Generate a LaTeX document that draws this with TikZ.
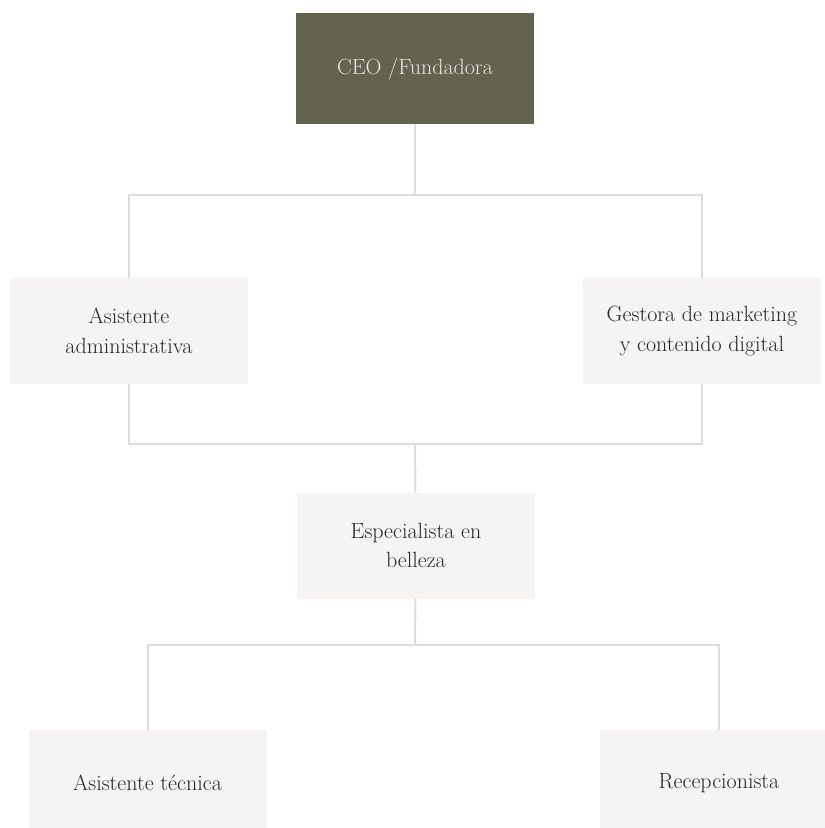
\documentclass[tikz,border=0pt]{standalone}
\usepackage{fontspec}
\usepackage{tikz}
\usetikzlibrary{positioning}

\definecolor{olive}{HTML}{63634F}
\definecolor{paper}{HTML}{F6F4F2}
\definecolor{wire}{HTML}{DCDCDC}
\definecolor{ink}{HTML}{262626}
\definecolor{pale}{HTML}{E8E6DE}

\begin{document}
\begin{tikzpicture}[x=1pt,y=-1pt,
        box/.style={rectangle,fill=paper,minimum width=238pt,minimum height=106pt,
                    align=center,text=ink,
                    font=\fontsize{22}{29.5}\selectfont\addfontfeatures{LetterSpace=2.5}},
        head/.style={box,fill=olive,text=pale,minimum height=111pt},
        link/.style={draw=wire,line width=2pt}]

            %\draw [help lines] (0,0) grid (825,828);
            \clip (0,0) rectangle (825,828);

            \path   (415,68.5)  node (ceo) [head] {CEO /Fundadora}
                    (129,331) node (asis) [box] {Asistente\\administrativa}
                    (702,331) node (gest) [box] {Gestora de marketing\\y contenido digital}
                    (416,545.5) node (espe) [box] {Especialista en\\belleza}
                    (147.5,783) node (tecn) [box] {Asistente t\'ecnica}
                    (719,783) node (recep) [box] {Recepcionista};

            \coordinate (r1) at (415,195);
            \coordinate (r2) at (415,444);
            \coordinate (r3) at (415,645);

            \draw[link] (ceo) -- (r1);
            \draw[link] (asis) |- (r1) -| (gest);
            \draw[link] (asis) |- (r2) -| (gest);
            \draw[link] (r2) -- (espe);
            \draw[link] (espe) -- (r3);
            \draw[link] (tecn) |- (r3) -| (recep);

        \end{tikzpicture}
\end{document}
